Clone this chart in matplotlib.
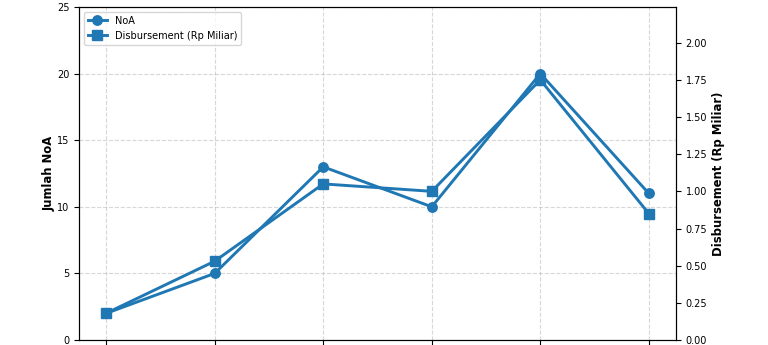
import matplotlib
matplotlib.use("Agg")
import matplotlib.pyplot as plt

bulan = ["Jan", "Feb", "Mar", "Apr", "Mei", "Jun"]
noa = [2, 5, 13, 10, 20, 11]
disbursement = [0.18, 0.53, 1.05, 1.0, 1.75, 0.85]

warna = "#1f77b4"

fig = plt.figure(figsize=(7.68, 3.45), dpi=100)
ax1 = fig.add_axes([79 / 768, 5 / 345, 597 / 768, 333 / 345])
ax2 = ax1.twinx()

x = list(range(len(bulan)))
l1, = ax1.plot(x, noa, color=warna, marker="o", linewidth=2.1, markersize=6.8, label="NoA")
l2, = ax2.plot(x, disbursement, color=warna, marker="s", linewidth=2.1, markersize=6.8,
               label="Disbursement (Rp Miliar)")

ax1.set_ylim(0, 25)
ax2.set_ylim(0, 2.24)
ax1.set_xticks(x)
# label bulan terpotong di gambar asli
ax1.tick_params(axis="x", labelbottom=False)

ax1.set_ylabel("Jumlah NoA", fontsize=8.4, fontweight="bold", labelpad=1)
ax2.set_ylabel("Disbursement (Rp Miliar)", fontsize=8.4, fontweight="bold", labelpad=3.5)
ax1.tick_params(labelsize=7)
ax2.tick_params(labelsize=7)

ax1.grid(True, linestyle="--", alpha=0.5)

ax1.legend(handles=[l1, l2], loc="upper left", fontsize=7)

fig.savefig("out.png", dpi=100)
